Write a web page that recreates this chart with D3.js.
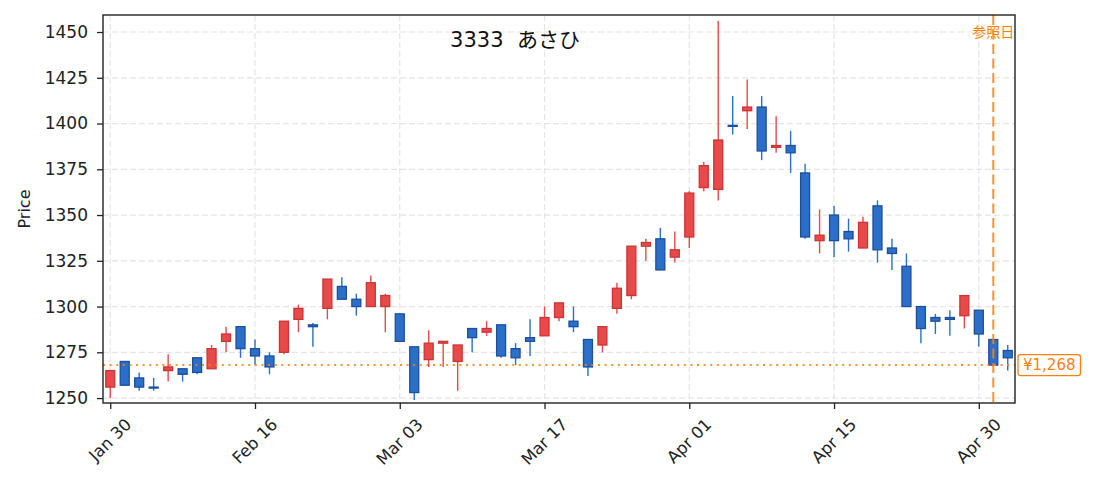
<!DOCTYPE html>
<html>
<head>
<meta charset="utf-8">
<script src="https://cdn.jsdelivr.net/npm/d3@7"></script>
<style>
  body { margin: 0; background: #fff; }
  svg text { font-family: "DejaVu Sans", "Noto Sans CJK JP", sans-serif; }
</style>
</head>
<body>
<div id="chart"></div>
<script>

// trading days (index based x axis)
var dates = ["Jan 30","Feb 02","Feb 03","Feb 04","Feb 05","Feb 06","Feb 09","Feb 10","Feb 12","Feb 13",
             "Feb 16","Feb 17","Feb 18","Feb 19","Feb 20","Feb 24","Feb 25","Feb 26","Feb 27","Mar 02",
             "Mar 03","Mar 04","Mar 05","Mar 06","Mar 09","Mar 10","Mar 11","Mar 12","Mar 13","Mar 16",
             "Mar 17","Mar 18","Mar 19","Mar 23","Mar 24","Mar 25","Mar 26","Mar 27","Mar 30","Mar 31",
             "Apr 01","Apr 02","Apr 03","Apr 06","Apr 07","Apr 08","Apr 09","Apr 10","Apr 13","Apr 14",
             "Apr 15","Apr 16","Apr 17","Apr 20","Apr 21","Apr 22","Apr 23","Apr 24","Apr 27","Apr 28",
             "Apr 30","May 01","May 07"];

var opens  = [1256,1270,1261,1256,1265,1266,1272,1266,1281,1289,
              1277,1273,1275,1293,1290,1299,1311,1304,1300,1300,
              1296,1278,1271,1280,1270,1288,1286,1290,1277,1283,
              1284,1294,1292,1282,1279,1299,1306,1333,1337,1327,
              1338,1365,1364,1399,1407,1409,1387,1388,1373,1336,
              1350,1341,1332,1355,1332,1322,1300,1294,1294,1295,
              1298,1282,1276];
var highs  = [1265,1270,1264,1261,1274,1266,1272,1279,1289,1289,
              1282,1275,1292,1301,1291,1315,1316,1307,1317,1307,
              1296,1278,1287,1281,1279,1288,1292,1290,1280,1293,
              1300,1302,1300,1282,1289,1313,1333,1337,1343,1341,
              1363,1379,1456,1415,1424,1415,1404,1396,1378,1353,
              1355,1348,1349,1358,1337,1329,1300,1296,1298,1306,
              1298,1282,1279];
var lows   = [1250,1257,1254,1254,1259,1259,1263,1266,1275,1272,
              1268,1263,1274,1286,1278,1293,1304,1295,1300,1286,
              1281,1249,1267,1267,1254,1275,1284,1272,1268,1273,
              1284,1292,1286,1262,1275,1296,1304,1325,1320,1324,
              1332,1363,1358,1394,1397,1380,1384,1373,1337,1329,
              1327,1330,1332,1324,1320,1300,1280,1285,1284,1288,
              1278,1268,1265];
var closes = [1265,1257,1256,1256,1267,1263,1264,1277,1285,1277,
              1273,1267,1292,1299,1289,1315,1304,1300,1313,1306,
              1281,1253,1280,1281,1279,1283,1288,1273,1272,1281,
              1294,1302,1289,1267,1289,1310,1333,1335,1320,1331,
              1362,1377,1391,1399,1409,1385,1388,1384,1338,1339,
              1336,1337,1346,1331,1329,1300,1288,1292,1293,1306,
              1285,1268,1272];

var yTicks = [1250,1275,1300,1325,1350,1375,1400,1425,1450];
var xTickIdx = [0,10,20,30,40,50,60];

var title = "3333  あさひ";
var refIndex = 61;
var refPrice = 1268;
var refLabel = "参照日";

function candleChart(id) {

    var w = 1093, h = 490;
    var margin = {top: 15, right: 78, bottom: 87, left: 103};
    var pw = w - margin.left - margin.right;
    var ph = h - margin.top - margin.bottom;

    var upFill = "#e84a4a", upStroke = "#cc3434";
    var downFill = "#2b6fc8", downStroke = "#1c4f9e";
    var orange = "#ff7f0e";

    var svg = d3.select("#" + id).append("svg")
        .attr("width", w)
        .attr("height", h);

    var x = d3.scaleLinear().domain([-0.5, dates.length - 0.5]).range([0, pw]);
    var y = d3.scaleLinear().domain([1247.3, 1459.3]).range([ph, 0]);
    var step = x(1) - x(0);
    var bodyW = step * 0.62;

    var g = svg.append("g")
        .attr("transform", "translate(" + margin.left + "," + margin.top + ")");

    // grid
    g.append("g").selectAll("line")
        .data(yTicks).enter().append("line")
        .attr("x1", 0).attr("x2", pw)
        .attr("y1", function(d) { return y(d); })
        .attr("y2", function(d) { return y(d); })
        .attr("stroke", "#e5e5e5")
        .attr("stroke-width", 1.2)
        .attr("stroke-dasharray", "6,3");
    g.append("g").selectAll("line")
        .data(xTickIdx).enter().append("line")
        .attr("y1", 0).attr("y2", ph)
        .attr("x1", function(d) { return x(d); })
        .attr("x2", function(d) { return x(d); })
        .attr("stroke", "#e5e5e5")
        .attr("stroke-width", 1.2)
        .attr("stroke-dasharray", "6,3");

    var candles = d3.range(dates.length).map(function(i) {
        return {i: i, o: opens[i], h: highs[i], l: lows[i], c: closes[i], up: closes[i] > opens[i]};
    });

    // wicks
    g.append("g").selectAll("line")
        .data(candles).enter().append("line")
        .attr("x1", function(d) { return x(d.i); })
        .attr("x2", function(d) { return x(d.i); })
        .attr("y1", function(d) { return y(d.h); })
        .attr("y2", function(d) { return y(d.l); })
        .attr("stroke", function(d) { return d.up ? upFill : downFill; })
        .attr("stroke-width", 1.4);

    // bodies
    g.append("g").selectAll("rect")
        .data(candles).enter().append("rect")
        .attr("x", function(d) { return x(d.i) - bodyW / 2; })
        .attr("y", function(d) { return y(Math.max(d.o, d.c)); })
        .attr("width", bodyW)
        .attr("height", function(d) { return Math.max(1, Math.abs(y(d.o) - y(d.c))); })
        .attr("fill", function(d) { return d.up ? upFill : downFill; })
        .attr("stroke", function(d) { return d.up ? upStroke : downStroke; })
        .attr("stroke-width", 1.3);

    // reference price line
    g.append("line")
        .attr("x1", 0).attr("x2", pw)
        .attr("y1", y(refPrice)).attr("y2", y(refPrice))
        .attr("stroke", orange)
        .attr("stroke-width", 2)
        .attr("stroke-opacity", 0.85)
        .attr("stroke-dasharray", "2,4.6");

    // reference date line
    g.append("line")
        .attr("x1", x(refIndex)).attr("x2", x(refIndex))
        .attr("y1", 0).attr("y2", ph)
        .attr("stroke", orange)
        .attr("stroke-width", 2)
        .attr("stroke-opacity", 0.85)
        .attr("stroke-dasharray", "10,4.5");

    g.append("text")
        .attr("x", x(refIndex))
        .attr("y", 18)
        .attr("text-anchor", "middle")
        .attr("dominant-baseline", "middle")
        .attr("font-size", 14)
        .attr("fill", orange)
        .text(refLabel);

    // price label on the right
    var lbl = g.append("g")
        .attr("transform", "translate(" + (pw + 3) + "," + y(refPrice) + ")");
    var lblBox = lbl.append("rect")
        .attr("fill", "#fff")
        .attr("stroke", orange)
        .attr("stroke-width", 1.3)
        .attr("rx", 2.5);
    var lblText = lbl.append("text")
        .attr("x", 5)
        .attr("y", 0)
        .attr("dominant-baseline", "central")
        .attr("font-size", 15)
        .attr("fill", orange)
        .text("¥" + d3.format(",")(refPrice));
    var tl = lblText.node().getComputedTextLength();
    lblBox.attr("x", 0).attr("y", -10.5).attr("width", tl + 10).attr("height", 21);

    // axes
    var yAxis = d3.axisLeft(y).tickValues(yTicks).tickSize(6).tickPadding(9).tickFormat(d3.format("d"));
    var ya = g.append("g").call(yAxis);
    ya.select(".domain").remove();
    ya.selectAll("line").attr("stroke", "#222").attr("stroke-width", 1.3);
    ya.selectAll("text").attr("font-size", 17).attr("fill", "#222")
        .style("font-family", "'DejaVu Sans', sans-serif");

    var xAxis = d3.axisBottom(x).tickValues(xTickIdx).tickSize(6).tickFormat("");
    var xa = g.append("g").attr("transform", "translate(0," + ph + ")").call(xAxis);
    xa.select(".domain").remove();
    xa.selectAll("line").attr("stroke", "#222").attr("stroke-width", 1.3);

    xTickIdx.forEach(function(i) {
        var t = g.append("text")
            .attr("text-anchor", "middle")
            .attr("dominant-baseline", "central")
            .attr("font-size", 16.5)
            .attr("fill", "#222")
            .text(dates[i]);
        var len = t.node().getComputedTextLength();
        var cy = ph + 14 + (len + 13) / (2 * Math.SQRT2);
        t.attr("transform", "translate(" + x(i) + "," + cy + ") rotate(-45)");
    });

    // frame
    g.append("rect")
        .attr("width", pw)
        .attr("height", ph)
        .attr("fill", "none")
        .attr("stroke", "#222")
        .attr("stroke-width", 1.4);

    // title (keep the double space)
    g.append("text")
        .attr("x", 412)
        .attr("y", 32)
        .attr("text-anchor", "middle")
        .attr("font-size", 21)
        .attr("fill", "#111")
        .style("white-space", "pre")
        .text(title);

    // y label
    svg.append("text")
        .attr("transform", "translate(30," + (margin.top + ph / 2) + ") rotate(-90)")
        .attr("text-anchor", "middle")
        .attr("font-size", 16)
        .attr("fill", "#222")
        .text("Price");
}

candleChart("chart");
</script>
</body>
</html>
